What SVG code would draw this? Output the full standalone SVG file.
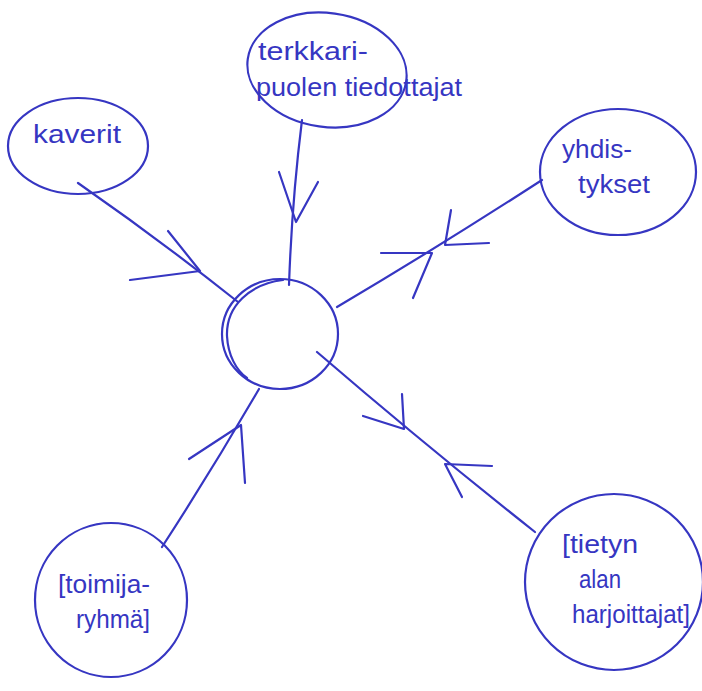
<svg xmlns="http://www.w3.org/2000/svg" width="702" height="691" viewBox="0 0 702 691">
<style>
.ink{fill:none;stroke:#3636c2;stroke-width:2.2;stroke-linecap:round;stroke-linejoin:round}
.lbl{font-family:"Liberation Sans","DejaVu Sans",sans-serif;font-size:26px;fill:#3636c2}
</style>
<rect width="702" height="691" fill="#ffffff"/>
<g id="connectors">
  <!-- kaverit -> center -->
  <path class="ink" d="M78,183 Q160,240 238,302"/>
  <polyline class="ink" points="168,231 200,271 130,280"/>
  <!-- terkkari -> center -->
  <path class="ink" d="M302,120 Q292,200 289,285"/>
  <polyline class="ink" points="279,172 296,222 318,182"/>
  <!-- yhdistykset <-> center -->
  <path class="ink" d="M542,180 Q440,246 337,307"/>
  <polyline class="ink" points="451,210 445,245 489,243"/>
  <polyline class="ink" points="381,253 432,253 413,298"/>
  <!-- center <-> tietyn -->
  <path class="ink" d="M317,352 Q425,445 535,532"/>
  <polyline class="ink" points="402,394 404,429 363,416"/>
  <polyline class="ink" points="492,466 445,464 462,497"/>
  <!-- toimijaryhma -> center -->
  <path class="ink" d="M162,547 Q212,470 259,389"/>
  <polyline class="ink" points="189,459 241,425 245,483"/>
</g>
<g id="center">
  <ellipse class="ink" cx="280" cy="334" rx="58" ry="55"/>
  <path class="ink" d="M283,280 C250,284 226,306 227,336 C228,355 236,370 247,378"/>
</g>
<g id="terkkari">
  <ellipse class="ink" cx="327" cy="70" rx="80" ry="57" transform="rotate(8 327 70)"/>
  <text class="lbl" x="258" y="60" textLength="110" lengthAdjust="spacingAndGlyphs">terkkari-</text>
  <text class="lbl" x="256" y="96" textLength="206" lengthAdjust="spacingAndGlyphs">puolen tiedottajat</text>
</g>
<g id="kaverit">
  <ellipse class="ink" cx="78" cy="146" rx="70" ry="48"/>
  <text class="lbl" x="33" y="143" textLength="88" lengthAdjust="spacingAndGlyphs">kaverit</text>
</g>
<g id="yhdistykset">
  <ellipse class="ink" cx="618" cy="172" rx="78" ry="63"/>
  <text class="lbl" x="562" y="158" textLength="70" lengthAdjust="spacingAndGlyphs">yhdis-</text>
  <text class="lbl" x="578" y="193" textLength="72" lengthAdjust="spacingAndGlyphs">tykset</text>
</g>
<g id="toimijaryhma">
  <ellipse class="ink" cx="111" cy="600" rx="76" ry="77"/>
  <text class="lbl" x="58" y="593" textLength="92" lengthAdjust="spacingAndGlyphs">[toimija-</text>
  <text class="lbl" x="76" y="628" textLength="74" lengthAdjust="spacingAndGlyphs">ryhmä]</text>
</g>
<g id="tietyn">
  <ellipse class="ink" cx="614" cy="582" rx="89" ry="88"/>
  <text class="lbl" x="562" y="553" textLength="76" lengthAdjust="spacingAndGlyphs">[tietyn</text>
  <text class="lbl" x="579" y="588" textLength="42" lengthAdjust="spacingAndGlyphs">alan</text>
  <text class="lbl" x="572" y="623" textLength="118" lengthAdjust="spacingAndGlyphs">harjoittajat]</text>
</g>
</svg>
